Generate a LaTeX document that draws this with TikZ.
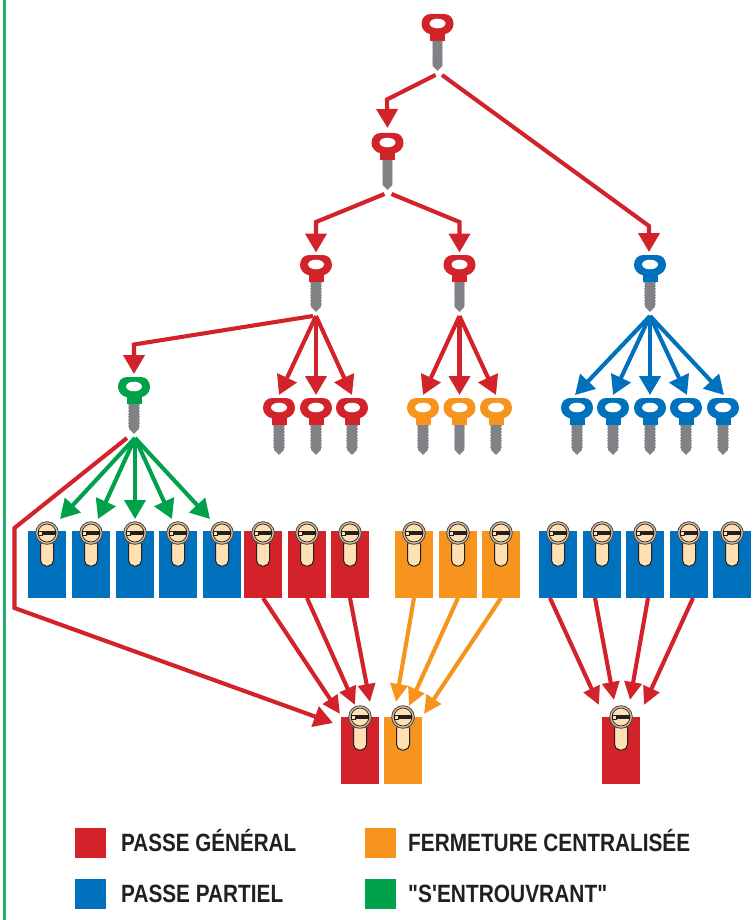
\documentclass[tikz,border=0pt]{standalone}
\usepackage{fontspec}
\usepackage{graphicx}
\setmainfont{Liberation Sans}[Ligatures=TeXOff]
\usetikzlibrary{arrows.meta}
\definecolor{cred}{HTML}{D2232A}
\definecolor{cblue}{HTML}{0071BC}
\definecolor{corange}{HTML}{F7941D}
\definecolor{cgreen}{HTML}{00A14B}
\definecolor{ctan}{HTML}{FFE0B2}
\definecolor{cdark}{HTML}{231F20}
\definecolor{cblade}{HTML}{808285}
\tikzset{
  arrowlink/.style={line width=4.1pt,draw=#1,line join=miter,-{Triangle[width=21pt,length=19pt]}},
  doorlink/.style={line width=4.1pt,draw=#1,line join=miter,-{Triangle[width=17pt,length=18pt]}},
  door/.style={fill=#1,draw=none,minimum width=38pt,minimum height=67pt,inner sep=0pt,outer sep=0pt},
  swatch/.style={fill=#1,draw=none,minimum width=31pt,minimum height=30pt,inner sep=0pt,outer sep=0pt},
  legendtext/.style={inner sep=0pt,text=cdark,font=\fontsize{25pt}{25pt}\selectfont\bfseries},
}
% key: name, x, y (head centre), colour; also defines (name t) above and (name b) below it
\newcommand{\keyat}[4]{%
  \coordinate (#1) at (#2,#3);
  \coordinate (#1t) at (#2,#3-13);
  \coordinate (#1b) at (#2,#3+51);
  \begin{scope}[shift={(#2,#3)}]
    \fill[#4] (-16,0) .. controls (-16,-6) and (-12,-10) .. (-7,-10) -- (7,-10)
      .. controls (12,-10) and (16,-6) .. (16,0) .. controls (16,5) and (12,9) .. (8,10)
      -- (-8,10) .. controls (-12,9) and (-16,5) .. (-16,0) -- cycle;
    \fill[white] (0,-0.5) ellipse [x radius=8,y radius=4.8];
    \fill[#4] (-7.5,8) rectangle (7.5,17);
    \fill[cblade] (-4.8,17) -- (4.8,17) -- (4.8,42) -- (0,47) -- (-4.8,42) -- cycle;
    \draw[cblade!60,line width=0.8pt,dash pattern=on 1.5pt off 1.5pt] (-5.2,17) -- (-5.2,41) (5.2,17) -- (5.2,41);
  \end{scope}
}
% cylinder: x, y (head centre)
\newcommand{\cylat}[2]{%
  \begin{scope}[shift={(#1,#2)}]
    \filldraw[fill=ctan,draw=cdark,line width=1pt,rounded corners=5.5pt] (-6.5,6) -- (-6.5,33) -- (6.5,33) -- (6.5,6) -- cycle;
    \filldraw[fill=ctan!70!gray,draw=cdark!80,line width=0.9pt] (0,0) circle [radius=11.3];
    \filldraw[fill=ctan,draw=cdark,line width=0.7pt] (0,0) circle [radius=9];
    \fill[cdark] (-5,-2.1) rectangle (8.8,2.1);
    \draw[cdark,line width=0.4pt] (-8.6,-2.1) rectangle (-5,2.1);
  \end{scope}
}
\newcommand{\doorat}[4]{%
  \node[door=#4] (#1) at (#2,#3+33.5) {};
  \cylat{#2}{#3+2}
}
\begin{document}
\begin{tikzpicture}[x=1pt,y=-1pt]
\useasboundingbox (0,0) rectangle (754,920);
\fill[cgreen!85!white] (3,0) rectangle (6,920);

% keys
\keyat{ka}{437.5}{24}{cred}
\keyat{kb}{387.5}{143}{cred}
\keyat{kc}{316}{265}{cred}
\keyat{kd}{459.5}{265}{cred}
\keyat{ke}{650}{265}{cblue}
\keyat{kf}{134}{387}{cgreen}
\keyat{ra}{279}{408}{cred}
\keyat{rb}{316}{408}{cred}
\keyat{rc}{352}{408}{cred}
\keyat{oa}{423}{408}{corange}
\keyat{ob}{459.5}{408}{corange}
\keyat{oc}{496}{408}{corange}
\keyat{ba}{577}{408}{cblue}
\keyat{bb}{613}{408}{cblue}
\keyat{bc}{650}{408}{cblue}
\keyat{bd}{686}{408}{cblue}
\keyat{be}{723}{408}{cblue}

% doors
\doorat{d1}{47}{531}{cblue}
\doorat{d2}{91}{531}{cblue}
\doorat{d3}{135}{531}{cblue}
\doorat{d4}{178}{531}{cblue}
\doorat{d5}{222}{531}{cblue}
\doorat{d6}{263}{531}{cred}
\doorat{d7}{307}{531}{cred}
\doorat{d8}{350}{531}{cred}
\doorat{d9}{414}{531}{corange}
\doorat{d10}{458}{531}{corange}
\doorat{d11}{501}{531}{corange}
\doorat{d12}{558}{531}{cblue}
\doorat{d13}{602}{531}{cblue}
\doorat{d14}{645}{531}{cblue}
\doorat{d15}{689}{531}{cblue}
\doorat{d16}{732}{531}{cblue}
\node[door=cred] (m1) at (360,750.5) {};
\cylat{360}{717}
\node[door=corange] (m2) at (403,750.5) {};
\cylat{403}{717}
\node[door=cred] (m3) at (621,750.5) {};
\cylat{621}{717}

% elbows and arrow ends
\coordinate (e1) at (387,99.5);
\coordinate (t1) at (387.5,128);
\coordinate (e0) at (649,226);
\coordinate (t2) at (649,252);
\coordinate (e2) at (316,222);
\coordinate (e3) at (459.5,222);
\coordinate (e4) at (134,344.5);
\coordinate (e5) at (127,438);
\coordinate (e6) at (14.5,528);
\coordinate (e7) at (14.5,608);
\coordinate (t3) at (333,723);
\coordinate (t4) at (340,714);
\coordinate (t5) at (355,705);
\coordinate (t6) at (370,702);
\coordinate (t7) at (396,702);
\coordinate (t8) at (409,706);
\coordinate (t9) at (424,714);
\coordinate (t10) at (599,705);
\coordinate (t11) at (614,700);
\coordinate (t12) at (630,700);
\coordinate (t13) at (644,705);

% key-to-key connectors
\draw[arrowlink=cred] ([xshift=-2pt]kab) -- (e1) -- (t1);
\draw[arrowlink=cred] ([xshift=4.5pt]kab) -- (e0) -- (t2);
\draw[arrowlink=cred] ([xshift=-3pt]kbb) -- (e2) -- ([yshift=-0.5pt]kct);
\draw[arrowlink=cred] ([xshift=4pt]kbb) -- (e3) -- ([yshift=-0.5pt]kdt);
\draw[arrowlink=cred] ([xshift=-3pt]kcb) -- (e4) -- (kft);
\draw[arrowlink=cred] (kcb) -- (rat);
\draw[arrowlink=cred] (kcb) -- (rbt);
\draw[arrowlink=cred] (kcb) -- (rct);
\draw[arrowlink=cred] (kdb) -- (oat);
\draw[arrowlink=cred] (kdb) -- (obt);
\draw[arrowlink=cred] (kdb) -- (oct);
\draw[arrowlink=cblue] (keb) -- ([xshift=-2pt]bat);
\draw[arrowlink=cblue] (keb) -- (bbt);
\draw[arrowlink=cblue] (keb) -- (bct);
\draw[arrowlink=cblue] (keb) -- ([xshift=1pt]bdt);
\draw[arrowlink=cblue] (keb) -- ([xshift=1pt]bet);

% key-to-door connectors
\draw[arrowlink=cgreen] ([xshift=1pt]kfb) -- ([shift={(13pt,12pt)}]d1.north);
\draw[arrowlink=cgreen] ([xshift=1pt]kfb) -- ([shift={(7pt,12pt)}]d2.north);
\draw[arrowlink=cgreen] ([xshift=1pt]kfb) -- ([shift={(0pt,12pt)}]d3.north);
\draw[arrowlink=cgreen] ([xshift=1pt]kfb) -- ([shift={(-6pt,12pt)}]d4.north);
\draw[arrowlink=cgreen] ([xshift=1pt]kfb) -- ([shift={(-12pt,12pt)}]d5.north);
\draw[arrowlink=cred] (e5) -- (e6) -- (e7) -- (t3);

% door-to-door connectors
\draw[doorlink=cred] (d6.south) -- (t4);
\draw[doorlink=cred] (d7.south) -- (t5);
\draw[doorlink=cred] (d8.south) -- (t6);
\draw[doorlink=corange] (d9.south) -- (t7);
\draw[doorlink=corange] (d10.south) -- (t8);
\draw[doorlink=corange] (d11.south) -- (t9);
\draw[doorlink=cred] ([xshift=-8pt]d12.south) -- (t10);
\draw[doorlink=cred] ([xshift=-7pt]d13.south) -- (t11);
\draw[doorlink=cred] ([xshift=3pt]d14.south) -- (t12);
\draw[doorlink=cred] ([xshift=4pt]d15.south) -- (t13);

% legend
\node[swatch=cred] (s1) at (90.5,842.5) {};
\node[swatch=corange] (s2) at (380,842.5) {};
\node[swatch=cblue] (s3) at (90.5,893.5) {};
\node[swatch=cgreen] (s4) at (380,893.5) {};
\node[legendtext,anchor=base west] (l1) at (121,851) {\resizebox{175pt}{\height}{PASSE GÉNÉRAL}};
\node[legendtext,anchor=base west] (l2) at (408,851) {\resizebox{282pt}{\height}{FERMETURE CENTRALISÉE}};
\node[legendtext,anchor=base west] (l3) at (121,902) {\resizebox{162pt}{\height}{PASSE PARTIEL}};
\node[legendtext,anchor=base west] (l4) at (408,902) {\resizebox{199pt}{\height}{"S'ENTROUVRANT"}};
\end{tikzpicture}
\end{document}
